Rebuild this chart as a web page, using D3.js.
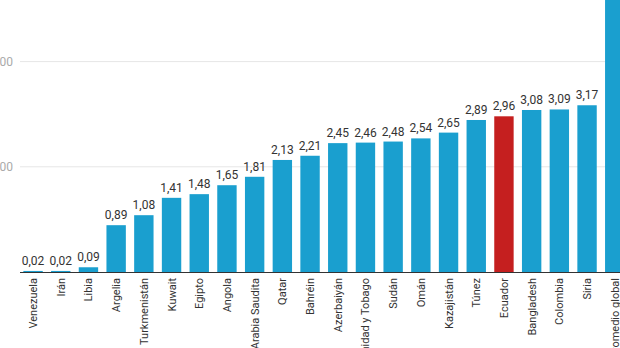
<!DOCTYPE html>
<html><head><meta charset="utf-8">
<script src="https://cdn.jsdelivr.net/npm/d3@7"></script>
<style>body{margin:0;background:#fff;overflow:hidden}svg{display:block;font-family:Roboto,"Noto Sans",sans-serif}</style>
</head><body>
<svg id="c" width="620" height="348"></svg>
<script>
const categories = ["Venezuela","Irán","Libia","Argelia","Turkmenistán","Kuwait","Egipto","Angola","Arabia Saudita","Qatar","Bahréin","Azerbaiyán","Trinidad y Tobago","Sudán","Omán","Kazajistán","Túnez","Ecuador","Bangladesh","Colombia","Siria","Promedio global"];
const values = [0.02,0.02,0.09,0.89,1.08,1.41,1.48,1.65,1.81,2.13,2.21,2.45,2.46,2.48,2.54,2.65,2.89,2.96,3.08,3.09,3.17,5.54];
const highlight = ["Ecuador"];
const yTicks = [0,2,4,6];

const svg = d3.select("#c");
const baseY = 272, unit = 52.6;
const x = d3.scaleBand().domain(categories).range([19.2, 19.2 + 27.7*categories.length]).paddingInner(0.3).paddingOuter(0.15);
const y = d3.scaleLinear().domain([0,6]).range([baseY, baseY - 6*unit]);
const fmt = v => d3.format(".2f")(v).replace(".", ",");

// gridlines
const g = svg.append("g");
g.selectAll("line.grid").data(yTicks.filter(t=>t>0)).join("line")
  .attr("x1", 20).attr("x2", 620).attr("y1", d=>y(d)).attr("y2", d=>y(d))
  .attr("stroke", "#e6e6e6").attr("stroke-width", 1);
g.selectAll("text.tick").data(yTicks.filter(t=>t>0)).join("text")
  .attr("x", 13).attr("y", d=>y(d)).attr("dy", "0.35em")
  .attr("text-anchor", "end").attr("font-size", 12).attr("fill", "#aaa")
  .text(d=>fmt(d));

// bars
svg.append("g").selectAll("rect").data(categories).join("rect")
  .attr("x", d=>x(d)).attr("width", x.bandwidth())
  .attr("y", (d,i)=>y(values[i])).attr("height", (d,i)=>baseY - y(values[i]))
  .attr("fill", d=> highlight.includes(d) ? "#c51f1f" : "#1a9fcf");

// value labels
svg.append("g").selectAll("text").data(categories).join("text")
  .attr("x", d=>x(d)+x.bandwidth()/2).attr("y", (d,i)=>y(values[i]) - 6)
  .attr("text-anchor", "middle").attr("font-size", 12).attr("fill", "#333")
  .text((d,i)=>fmt(values[i]));

// baseline
svg.append("line").attr("x1", 20).attr("x2", 620).attr("y1", baseY+0.5).attr("y2", baseY+0.5)
  .attr("stroke", "#333").attr("stroke-width", 1.2);

// category labels
svg.append("g").selectAll("text").data(categories).join("text")
  .attr("transform", d=>`translate(${x(d)+x.bandwidth()/2+4},${baseY+6}) rotate(-90)`)
  .attr("text-anchor", "end").attr("font-size", 11).attr("fill", "#333")
  .text(d=>d);
</script>
</body></html>
